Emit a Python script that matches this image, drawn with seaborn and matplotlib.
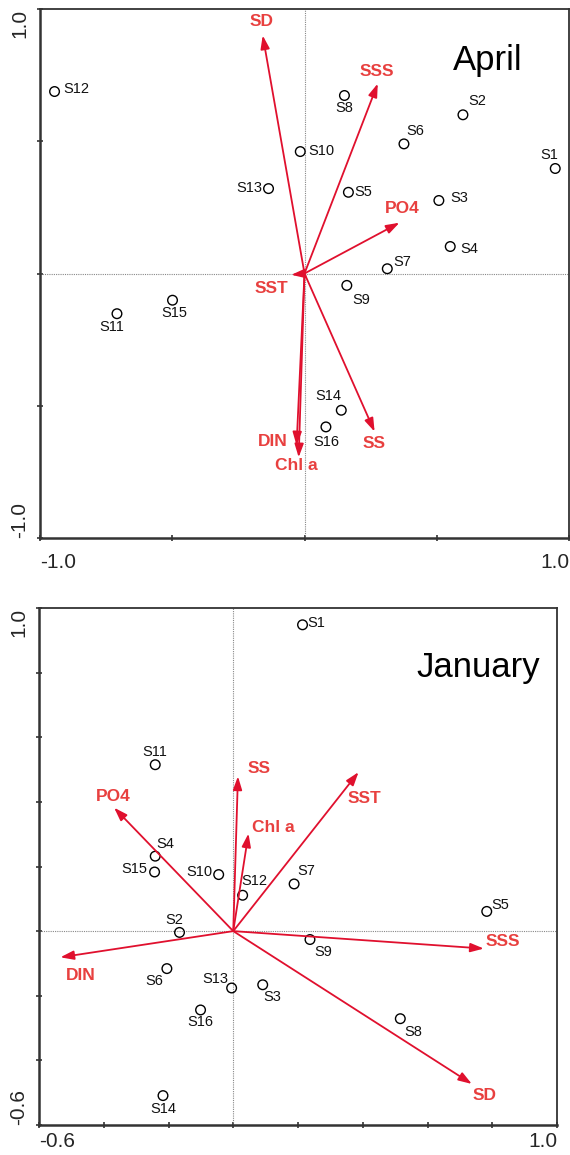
import numpy as np
import pandas as pd
import matplotlib
matplotlib.use("Agg")
import matplotlib.pyplot as plt
import seaborn as sns

# ---------------- data ----------------
sites = ["S1", "S2", "S3", "S4", "S5", "S6", "S7", "S8",
         "S9", "S10", "S11", "S12", "S13", "S14", "S15", "S16"]

april_x = [0.948, 0.599, 0.508, 0.551, 0.166, 0.376, 0.313, 0.151,
           0.160, -0.016, -0.709, -0.945, -0.136, 0.139, -0.499, 0.081]
april_y = [0.397, 0.600, 0.276, 0.102, 0.307, 0.490, 0.018, 0.673,
           -0.045, 0.461, -0.152, 0.688, 0.321, -0.517, -0.101, -0.580]

april_vars = ["SD", "SSS", "PO4", "SST", "DIN", "Chl a", "SS"]
april_vx = [-0.158, 0.277, 0.359, -0.050, -0.030, -0.022, 0.265]
april_vy = [0.900, 0.718, 0.192, -0.005, -0.650, -0.695, -0.598]

jan_x = [0.214, -0.166, 0.091, -0.241, 0.783, -0.205, 0.188, 0.516,
         0.237, -0.045, -0.241, 0.029, -0.005, -0.217, -0.243, -0.101]
jan_y = [0.948, -0.004, -0.166, 0.232, 0.061, -0.116, 0.146, -0.271,
         -0.026, 0.175, 0.515, 0.111, -0.176, -0.509, 0.183, -0.244]

jan_vars = ["SS", "PO4", "Chl a", "SST", "SSS", "DIN", "SD"]
jan_vx = [0.0145, -0.368, 0.047, 0.387, 0.774, -0.534, 0.737]
jan_vy = [0.479, 0.382, 0.302, 0.492, -0.054, -0.081, -0.473]

april_xticks = [-1.0, -0.5, 0.0, 0.5, 1.0]
april_xticklabels = ["-1.0", "", "", "", "1.0"]
april_yticks = [-1.0, -0.5, 0.0, 0.5, 1.0]
april_yticklabels = ["-1.0", "", "", "", "1.0"]

jan_xticks = [-0.6, -0.4, -0.2, 0.0, 0.2, 0.4, 0.6, 0.8, 1.0]
jan_xticklabels = ["-0.6", "", "", "", "", "", "", "", "1.0"]
jan_yticks = [-0.6, -0.4, -0.2, 0.0, 0.2, 0.4, 0.6, 0.8, 1.0]
jan_yticklabels = ["-0.6", "", "", "", "", "", "", "", "1.0"]

# ---------------- label layout (pixel offsets, image y downwards) ----------------
april_site_off = {"S1": (-6, -13), "S2": (14, -14), "S3": (20, -2), "S4": (19, 2),
                  "S5": (15, 0), "S6": (11, -13), "S7": (15, -7), "S8": (0, 13),
                  "S9": (14, 15), "S10": (21, -1), "S11": (-5, 13), "S12": (22, -3),
                  "S13": (-19, -1), "S14": (-13, -14), "S15": (2, 13), "S16": (0, 15)}
april_var_off = {"SD": (-1, -14), "SSS": (-1, -12), "PO4": (3, -14), "SST": (-20, 14),
                 "DIN": (-24, -4), "Chl a": (-2, 8), "SS": (-1, 12)}
jan_site_off = {"S1": (14, -2), "S2": (-5, -12), "S3": (10, 12), "S4": (10, -12),
                "S5": (14, -6), "S6": (-13, 12), "S7": (12, -13), "S8": (13, 13),
                "S9": (13, 12), "S10": (-19, -3), "S11": (0, -13), "S12": (12, -14),
                "S13": (-16, -9), "S14": (0, 13), "S15": (-20, -3), "S16": (0, 12)}
jan_var_off = {"SS": (21, -8), "PO4": (-1, -11), "Chl a": (25, -6), "SST": (6, 26),
               "SSS": (19, -7), "DIN": (20, 18), "SD": (13, 12)}

# ---------------- style ----------------
sns.set_style("ticks")
plt.rcParams["font.family"] = ["Liberation Sans", "DejaVu Sans"]

ARROW_C = "#e0102e"
LABEL_C = "#e8403f"
SPINE_C = "#333333"

fig = plt.figure(figsize=(5.7, 11.55), dpi=100)
ax1 = fig.add_axes([40 / 570, 1 - 538 / 1155, 529 / 570, 529 / 1155])
ax2 = fig.add_axes([39 / 570, 1 - 1125 / 1155, 518 / 570, 517 / 1155])


def draw_panel(ax, xs, ys, vnames, vx, vy, site_off, var_off, xlim, ylim,
               xt, xtl, yt, ytl, title, title_pos, xpad):
    ax.axhline(0, color="#888888", ls=(0, (1, 1)), lw=0.8, zorder=1)
    ax.axvline(0, color="#888888", ls=(0, (1, 1)), lw=0.8, zorder=1)

    df = pd.DataFrame({"x": xs, "y": ys, "site": sites})
    sns.scatterplot(data=df, x="x", y="y", ax=ax, marker="o", s=48,
                    linewidth=1.0, zorder=3, legend=False)
    coll = ax.collections[-1]
    coll.set_facecolor("none")
    coll.set_edgecolor("black")

    for s, x, y in zip(df["site"], df["x"], df["y"]):
        dx, dy = site_off[s]
        ax.annotate(s, (x, y), xytext=(dx, -dy), textcoords="offset pixels",
                    ha="center", va="center", fontsize=10.5, color="#111111",
                    zorder=4)

    for n, x, y in zip(vnames, vx, vy):
        ax.annotate("", xy=(x, y), xytext=(0, 0),
                    arrowprops=dict(arrowstyle="-|>,head_length=0.8,head_width=0.27",
                                    color=ARROW_C, lw=1.3, shrinkA=0, shrinkB=0,
                                    mutation_scale=10),
                    zorder=5)
        dx, dy = var_off[n]
        ax.annotate(n, (x, y), xytext=(dx, -dy), textcoords="offset pixels",
                    ha="center", va="center", fontsize=12.5, fontweight="bold",
                    color=LABEL_C, zorder=6)

    ax.set_xlim(*xlim)
    ax.set_ylim(*ylim)
    ax.set_xticks(xt)
    ax.set_xticklabels(xtl, fontsize=15)
    ax.set_yticks(yt)
    ax.set_yticklabels(ytl, fontsize=15, rotation=90)
    lx = ax.get_xticklabels()
    lx[0].set_ha("left")
    lx[-1].set_ha("right")
    ly = ax.get_yticklabels()
    ly[0].set_va("bottom")
    ly[-1].set_va("top")
    ax.tick_params(axis="x", direction="inout", length=5, width=1.2, pad=xpad,
                   color=SPINE_C)
    ax.tick_params(axis="y", direction="inout", length=5, width=1.2, pad=5,
                   color=SPINE_C)
    ax.set_xlabel("")
    ax.set_ylabel("")
    for side in ["left", "bottom"]:
        ax.spines[side].set_linewidth(1.8)
        ax.spines[side].set_color(SPINE_C)
    for side in ["top", "right"]:
        ax.spines[side].set_visible(True)
        ax.spines[side].set_linewidth(1.3)
        ax.spines[side].set_color(SPINE_C)

    ax.text(title_pos[0], title_pos[1], title, transform=ax.transAxes,
            ha="center", va="baseline", fontsize=25, color="black")


draw_panel(ax1, april_x, april_y, april_vars, april_vx, april_vy,
           april_site_off, april_var_off, (-1.0, 1.0), (-1.0, 1.0),
           april_xticks, april_xticklabels, april_yticks, april_yticklabels,
           "April", (0.847, 0.885), 8)
draw_panel(ax2, jan_x, jan_y, jan_vars, jan_vx, jan_vy,
           jan_site_off, jan_var_off, (-0.6, 1.0), (-0.6, 1.0),
           jan_xticks, jan_xticklabels, jan_yticks, jan_yticklabels,
           "January", (0.848, 0.867), 2.5)

fig.savefig("out.png", dpi=100, facecolor="white")
